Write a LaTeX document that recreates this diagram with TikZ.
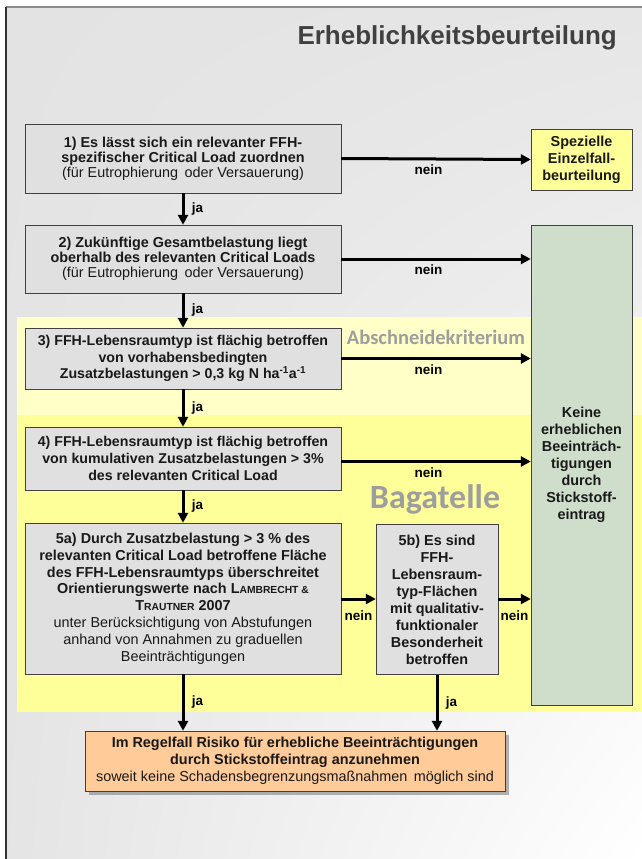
\documentclass[tikz,border=0pt]{standalone}
\usepackage{fontspec}
\setmainfont{Liberation Sans}
\newfontfamily\calib{Carlito}
\usetikzlibrary{arrows.meta,positioning,shadows,shadings}
\usepackage{xcolor}

\definecolor{panelgray}{HTML}{E3E3E3}
\definecolor{boxgray}{HTML}{E0E0E0}
\definecolor{bandlight}{HTML}{FFFFC8}
\definecolor{bandyellow}{HTML}{FFFF99}
\definecolor{specyellow}{HTML}{FFFF99}
\definecolor{okgreen}{HTML}{CEDECB}
\definecolor{riskorange}{HTML}{FFCB99}

\newcommand{\fakesc}[1]{{\fontsize{10.3}{10}\selectfont #1}}

\begin{document}
\begin{tikzpicture}[
  x=1pt, y=-1pt,
  crit/.style={draw=black!75, fill=boxgray, align=center, inner sep=0pt,
               text=black!90, font=\fontsize{14.4}{15}\selectfont\bfseries},
  outcome/.style={draw=black!75, align=center, inner sep=0pt,
                  text=black!90, font=\fontsize{14.4}{17}\selectfont\bfseries},
  flow/.style={line width=3pt, -{Triangle[length=10pt,width=10pt]}},
  yes/.style={font=\fontsize{13.5}{14}\selectfont\bfseries, right=4pt},
  no/.style={font=\fontsize{13.5}{14}\selectfont\bfseries},
  band/.style={font=\calib\bfseries, text=black!38},
]
  \useasboundingbox (0,0) rectangle (642,859);

  % --- Background panel ---
  \shade[upper left=panelgray, upper right=panelgray!90!white,
         lower left=panelgray!95!white, lower right=white]
    (6,7) rectangle (642,859);
  \draw[black!45, line width=1.5pt] (6,7) -- (642,7);
  \draw[black!80, line width=1.5pt] (6,7) -- (6,859);

  \node[font=\fontsize{26}{28}\selectfont\bfseries, text=black!75, anchor=east,
        inner sep=0pt] (title) at (617,38) {Erheblichkeitsbeurteilung};

  % --- Yellow bands ---
  \fill[bandlight] (17,317) rectangle (642,415);
  \fill[bandyellow] (17,415) rectangle (642,712);
  \node[band, font=\fontsize{20.5}{22}\selectfont\calib\bfseries] (cutoff)
    at (436,337) {Abschneidekriterium};
  \node[band, font=\fontsize{34}{36}\selectfont\calib\bfseries] (bagatelle)
    at (435,499) {Bagatelle};

  % --- Criteria ---
  \node[crit, minimum width=316pt, minimum height=69pt] (c1) at (183,158.5)
    {1) Es lässt sich ein relevanter FFH-\\spezifischer Critical Load zuordnen\\
     {\mdseries (für Eutrophierung\, oder Versauerung)}};
  \node[crit, minimum width=316pt, minimum height=68pt] (c2) at (183,259)
    {2) Zukünftige Gesamtbelastung liegt\\oberhalb des relevanten Critical Loads\\
     {\mdseries (für Eutrophierung\, oder Versauerung)}};
  \node[crit, minimum width=316pt, minimum height=61pt,
        font=\fontsize{14.2}{16.7}\selectfont\bfseries] (c3) at (183,358.5)
    {3) FFH-Lebensraumtyp ist flächig betroffen\\von vorhabensbedingten\\
     Zusatzbelastungen > 0,3 kg N ha\textsuperscript{-1}a\textsuperscript{-1}};
  \node[crit, minimum width=316pt, minimum height=63pt,
        font=\fontsize{14.2}{17}\selectfont\bfseries] (c4) at (183,458.5)
    {4) FFH-Lebensraumtyp ist flächig betroffen\\von kumulativen Zusatzbelastungen > 3\%\\
     des relevanten Critical Load};
  \node[crit, minimum width=316pt, minimum height=151pt,
        font=\fontsize{14.4}{16.8}\selectfont\bfseries] (c5a) at (183,598.5)
    {5a) Durch Zusatzbelastung > 3 \% des\\relevanten Critical Load betroffene Fläche\\
     des FFH-Lebensraumtyps überschreitet\\
     Orientierungswerte nach L\fakesc{AMBRECHT \&}\\T\fakesc{RAUTNER} 2007\\
     {\mdseries unter Berücksichtigung von Abstufungen}\\
     {\mdseries anhand von Annahmen zu graduellen}\\
     {\mdseries Beeinträchtigungen}};
  \node[crit, minimum width=122pt, minimum height=150pt,
        font=\fontsize{14.4}{17}\selectfont\bfseries] (c5b) at (437,599.5)
    {5b) Es sind\\FFH-\\Lebensraum-\\typ-Flächen\\mit qualitativ-\\funktionaler\\
     Besonderheit\\betroffen};

  % --- Outcomes ---
  \node[outcome, fill=specyellow, minimum width=101pt, minimum height=61pt]
    (spec) at (581.5,159.5) {Spezielle\\Einzelfall-\\beurteilung};
  \node[outcome, fill=okgreen, minimum width=101pt, minimum height=480pt]
    (none) at (581.5,465) {Keine\\erheblichen\\Beeinträch-\\tigungen\\durch\\Stickstoff-\\eintrag};
  \node[outcome, fill=riskorange, minimum width=420pt, minimum height=60pt,
        drop shadow={shadow xshift=4pt, shadow yshift=-4pt, opacity=0.6}]
    (risk) at (295,761)
    {Im Regelfall Risiko für erhebliche Beeinträchtigungen\\
     durch Stickstoffeintrag anzunehmen\\
     {\mdseries soweit keine Schadensbegrenzungsmaßnahmen\, möglich sind}};

  % --- ja (down) ---
  \draw[flow] (c1) -- (c2) node[yes, midway] {ja};
  \draw[flow] (c2) -- (c3) node[yes, midway] {ja};
  \draw[flow] (c3) -- (c4) node[yes, midway] {ja};
  \draw[flow] (c4) -- (c5a) node[yes, midway] {ja};
  \draw[flow] (c5a.south) -- (c5a.south |- risk.north) node[yes, midway] {ja};
  \draw[flow] (c5b.south) -- (c5b.south |- risk.north) node[yes, midway] {ja};

  % --- nein (right) ---
  \draw[flow] (c1.east) -- (spec.west) node[no, pos=0.46, below=1pt] {nein};
  \draw[flow] (c2.east) -- (c2.east -| none.west) node[no, pos=0.46, below=1pt] {nein};
  \draw[flow] (c3.east) -- (c3.east -| none.west) node[no, pos=0.46, below=1pt] {nein};
  \draw[flow] ([yshift=-3pt]c4.east) -- ([yshift=-3pt]c4.east -| none.west)
    node[no, pos=0.46, below=1pt] {nein};
  \draw[flow] (c5a.east |- 0,599) -- (c5b.west |- 0,599) node[no, midway, below=7pt] {nein};
  \draw[flow] (c5b.east |- 0,599) -- (none.west |- 0,599) node[no, midway, below=7pt] {nein};
\end{tikzpicture}
\end{document}
